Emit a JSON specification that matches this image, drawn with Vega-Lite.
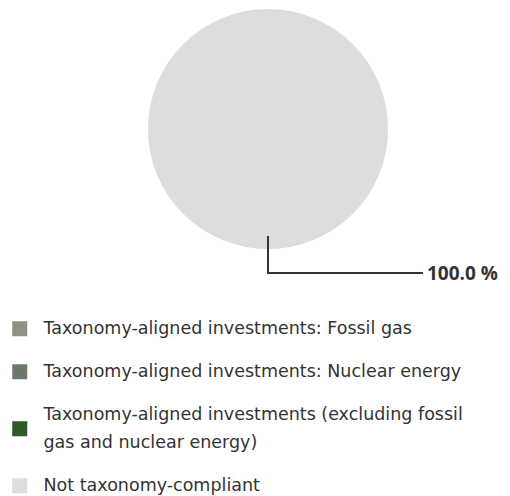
{
  "$schema": "https://vega.github.io/schema/vega-lite/v6.json",
  "width": 240,
  "height": 240,
  "autosize": {"type": "none"},
  "padding": {"left": 148, "top": 9, "right": 122, "bottom": 247},
  "background": "white",
  "config": {"view": {"stroke": null}, "font": "DejaVu Sans"},
  "datasets": {
    "shares": [
      {"category": "Taxonomy-aligned investments: Fossil gas", "value": 0},
      {"category": "Taxonomy-aligned investments: Nuclear energy", "value": 0},
      {"category": "Taxonomy-aligned investments (excluding fossil gas and nuclear energy)", "value": 0},
      {"category": "Not taxonomy-compliant", "value": 100}
    ]
  },
  "layer": [
    {
      "data": {"name": "shares"},
      "mark": {"type": "arc", "outerRadius": 120},
      "encoding": {
        "theta": {"field": "value", "type": "quantitative", "stack": true},
        "color": {
          "field": "category",
          "type": "nominal",
          "sort": null,
          "scale": {
            "domain": [
              "Taxonomy-aligned investments: Fossil gas",
              "Taxonomy-aligned investments: Nuclear energy",
              "Taxonomy-aligned investments (excluding fossil gas and nuclear energy)",
              "Not taxonomy-compliant"
            ],
            "range": ["#8f9283", "#6e7866", "#2f5a27", "#dcdddf"]
          },
          "legend": {
            "title": null,
            "orient": "none",
            "legendX": -137,
            "legendY": 311,
            "padding": 0,
            "symbolType": "square",
            "symbolSize": 225,
            "symbolStrokeWidth": 0,
            "labelFont": "DejaVu Sans",
            "labelFontSize": 17.5,
            "labelColor": "#333333",
            "labelOffset": 15,
            "labelLimit": 500,
            "rowPadding": 24,
            "encode": {
              "labels": {
                "update": {
                  "lineHeight": {"value": 28},
                  "dy": {"signal": "datum.value == 'Taxonomy-aligned investments (excluding fossil gas and nuclear energy)' ? -14 : 0"}
                }
              }
            },
            "labelExpr": "datum.label == 'Taxonomy-aligned investments (excluding fossil gas and nuclear energy)' ? ['Taxonomy-aligned investments (excluding fossil', 'gas and nuclear energy)'] : datum.label"
          }
        }
      }
    },
    {
      "data": {"values": [{"label": "100.0 %"}]},
      "mark": {"type": "rule", "color": "#333333", "strokeWidth": 2, "strokeCap": "square"},
      "encoding": {
        "x": {"datum": 0, "type": "quantitative", "scale": {"domain": [-1, 1]}, "axis": null},
        "y": {"datum": -0.9, "type": "quantitative", "scale": {"domain": [-1, 1]}, "axis": null},
        "y2": {"datum": -1.2}
      }
    },
    {
      "data": {"values": [{"label": "100.0 %"}]},
      "mark": {"type": "rule", "color": "#333333", "strokeWidth": 2, "strokeCap": "square"},
      "encoding": {
        "x": {"datum": 0, "type": "quantitative", "scale": {"domain": [-1, 1]}, "axis": null},
        "x2": {"datum": 1.283},
        "y": {"datum": -1.2, "type": "quantitative", "scale": {"domain": [-1, 1]}, "axis": null}
      }
    },
    {
      "data": {"values": [{"label": "100.0 %"}]},
      "mark": {"type": "text", "align": "left", "baseline": "middle", "font": "Open Sans", "fontSize": 19, "fontWeight": "bold", "color": "#333333", "dx": 5},
      "encoding": {
        "x": {"datum": 1.283, "type": "quantitative", "scale": {"domain": [-1, 1]}, "axis": null},
        "y": {"datum": -1.21, "type": "quantitative", "scale": {"domain": [-1, 1]}, "axis": null},
        "text": {"field": "label"}
      }
    }
  ]
}
